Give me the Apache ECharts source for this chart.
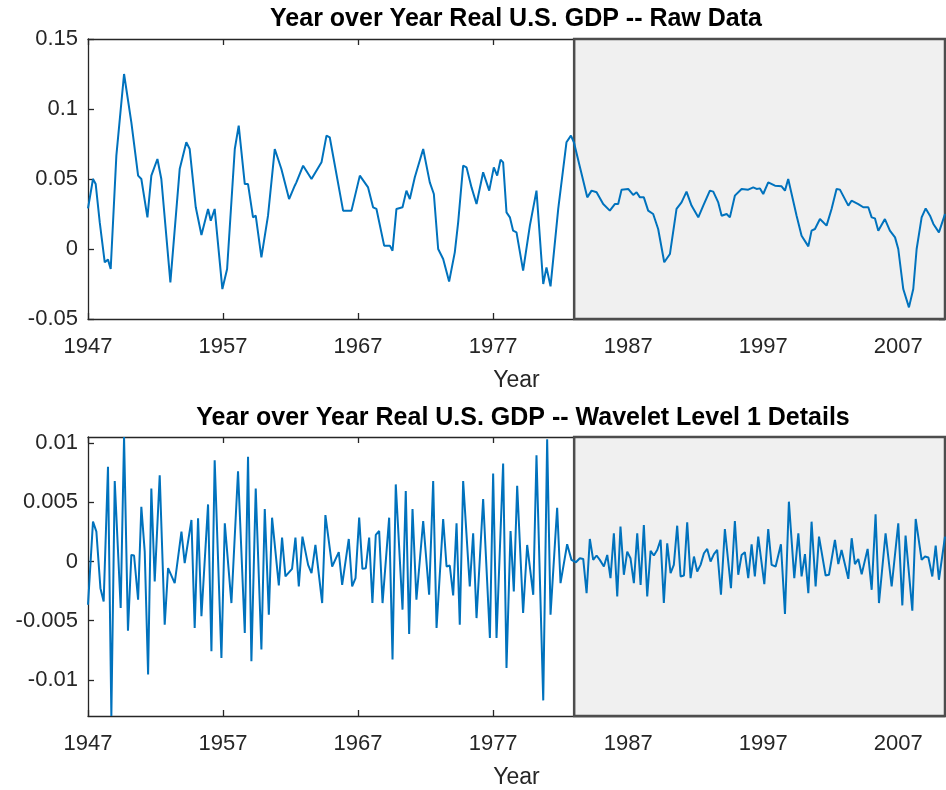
<!DOCTYPE html>
<html>
<head>
<meta charset="utf-8">
<script src="https://cdn.jsdelivr.net/npm/echarts@6/dist/echarts.min.js"></script>
<style>
html, body { margin: 0; padding: 0; background: #fff; }
#chart { width: 946px; height: 790px; }
</style>
</head>
<body>
<div id="chart"></div>
<script>
// 原始数据 (年同比实际GDP), 折线顶点
var rawYear = [1947.0, 1947.37, 1947.57, 1947.87, 1948.24, 1948.48, 1948.68, 1949.10, 1949.67, 1950.21,
	1950.71, 1950.95, 1951.40, 1951.69, 1952.14, 1952.43, 1953.10, 1953.79, 1954.28, 1954.53,
	1954.98, 1955.40, 1955.89, 1956.09, 1956.38, 1956.95, 1957.30, 1957.87, 1958.16, 1958.61,
	1958.85, 1959.22, 1959.42, 1959.84, 1960.33, 1960.83, 1961.32, 1961.89, 1962.31, 1962.43,
	1962.93, 1963.55, 1964.29, 1964.66, 1964.90, 1965.89, 1966.51, 1967.13, 1967.74, 1968.11,
	1968.36, 1968.93, 1969.35, 1969.55, 1969.84, 1970.29, 1970.58, 1970.83, 1971.20, 1971.82,
	1972.31, 1972.61, 1972.93, 1973.30, 1973.74, 1974.16, 1974.41, 1974.78, 1975.03, 1975.40,
	1975.77, 1976.26, 1976.71, 1977.05, 1977.30, 1977.55, 1977.74, 1977.99, 1978.24, 1978.48,
	1978.73, 1979.22, 1979.72, 1980.21, 1980.71, 1980.95, 1981.25, 1981.82, 1982.43, 1982.76,
	1982.98, 1983.97, 1984.29, 1984.66, 1985.15, 1985.64, 1986.01, 1986.26, 1986.51, 1987.00,
	1987.37, 1987.62, 1987.87, 1988.16, 1988.48, 1988.85, 1989.22, 1989.67, 1990.09, 1990.58,
	1990.95, 1991.32, 1991.69, 1992.19, 1992.56, 1993.05, 1993.30, 1993.67, 1993.92, 1994.29,
	1994.53, 1994.90, 1995.40, 1995.89, 1996.26, 1996.51, 1996.76, 1997.00, 1997.37, 1997.87,
	1998.36, 1998.61, 1998.85, 1999.47, 1999.84, 2000.34, 2000.58, 2000.83, 2001.20, 2001.69,
	2002.06, 2002.43, 2002.68, 2003.30, 2003.54, 2004.04, 2004.41, 2004.78, 2005.03, 2005.27,
	2005.52, 2006.01, 2006.38, 2006.76, 2007.00, 2007.37, 2007.79, 2008.11, 2008.36, 2008.73,
	2009.03, 2009.35, 2009.60, 2010.01, 2010.46];
var rawValue = [0.029, 0.050, 0.0464, 0.019, -0.0095, -0.0076, -0.0143, 0.0667, 0.125, 0.0905,
	0.0524, 0.050, 0.0226, 0.0524, 0.0643, 0.050, -0.0238, 0.0571, 0.0762, 0.0714,
	0.0298, 0.010, 0.0286, 0.0202, 0.0286, -0.0286, -0.0143, 0.0714, 0.0881, 0.0464,
	0.0464, 0.0226, 0.0238, -0.006, 0.0238, 0.0714, 0.0571, 0.0357, 0.0452, 0.0476,
	0.0595, 0.050, 0.0619, 0.081, 0.0798, 0.0274, 0.0274, 0.0524, 0.044, 0.0298,
	0.0286, 0.0024, 0.0024, -0.0012, 0.0286, 0.0298, 0.0417, 0.0357, 0.0512, 0.0714,
	0.0476, 0.0393, 0.0, -0.0071, -0.0233, -0.0024, 0.019, 0.0595, 0.0583, 0.044,
	0.0321, 0.0548, 0.0417, 0.0583, 0.0524, 0.0638, 0.0619, 0.0262, 0.0226, 0.0131,
	0.0119, -0.0155, 0.0167, 0.0417, -0.025, -0.0131, -0.0267, 0.0286, 0.0762, 0.081,
	0.0762, 0.0369, 0.0417, 0.0405, 0.0321, 0.0274, 0.0321, 0.0321, 0.0424, 0.0429,
	0.0386, 0.0405, 0.0369, 0.0369, 0.0274, 0.025, 0.0143, -0.0095, -0.0036, 0.0286,
	0.0333, 0.041, 0.031, 0.0226, 0.031, 0.0417, 0.041, 0.0333, 0.0238, 0.025,
	0.0226, 0.0381, 0.0429, 0.0424, 0.044, 0.0429, 0.0433, 0.0393, 0.0476, 0.0452,
	0.0448, 0.0417, 0.050, 0.0238, 0.0095, 0.0019, 0.0131, 0.0143, 0.0214, 0.0167,
	0.0286, 0.0429, 0.0424, 0.031, 0.0345, 0.0321, 0.0298, 0.0298, 0.0226, 0.0219,
	0.0131, 0.0214, 0.0131, 0.0083, 0.0, -0.0286, -0.0417, -0.0286, 0.0, 0.0226,
	0.029, 0.0238, 0.0179, 0.0119, 0.025];

// 小波第1层细节
var detYear = [1947.0, 1947.37, 1947.62, 1947.92, 1948.16, 1948.48, 1948.73, 1948.98, 1949.42, 1949.67,
	1949.96, 1950.21, 1950.41, 1950.71, 1950.95, 1951.20, 1951.45, 1951.69, 1951.94, 1952.31,
	1952.68, 1952.93, 1953.42, 1953.92, 1954.16, 1954.66, 1954.90, 1955.15, 1955.40, 1955.89,
	1956.14, 1956.38, 1956.88, 1957.13, 1957.62, 1958.11, 1958.61, 1958.85, 1959.10, 1959.42,
	1959.84, 1960.09, 1960.39, 1960.63, 1961.13, 1961.37, 1961.62, 1962.11, 1962.36, 1962.61,
	1962.88, 1963.30, 1963.55, 1963.84, 1964.34, 1964.58, 1965.08, 1965.57, 1965.82, 1966.31,
	1966.56, 1966.81, 1967.08, 1967.32, 1967.57, 1967.82, 1968.06, 1968.31, 1968.56, 1968.81,
	1969.30, 1969.55, 1969.79, 1970.29, 1970.53, 1970.78, 1971.03, 1971.32, 1971.82, 1972.26,
	1972.56, 1972.81, 1973.30, 1973.55, 1973.79, 1974.04, 1974.29, 1974.53, 1974.78, 1975.27,
	1975.52, 1975.77, 1976.26, 1976.76, 1977.00, 1977.25, 1977.74, 1977.99, 1978.29, 1978.53,
	1978.78, 1979.22, 1979.52, 1979.97, 1980.21, 1980.71, 1981.00, 1981.25, 1981.74, 1981.99,
	1982.48, 1982.80, 1983.13, 1983.42, 1983.67, 1983.92, 1984.16, 1984.41, 1984.66, 1984.90,
	1985.20, 1985.45, 1985.69, 1985.94, 1986.19, 1986.43, 1986.68, 1986.93, 1987.17, 1987.42,
	1987.67, 1987.92, 1988.16, 1988.41, 1988.66, 1988.90, 1989.15, 1989.40, 1989.64, 1989.89,
	1990.14, 1990.38, 1990.63, 1990.88, 1991.13, 1991.37, 1991.62, 1991.87, 1992.11, 1992.36,
	1992.61, 1992.85, 1993.10, 1993.35, 1993.59, 1993.87, 1994.16, 1994.61, 1994.90, 1995.15,
	1995.40, 1995.64, 1995.89, 1996.14, 1996.38, 1996.63, 1997.08, 1997.37, 1997.62, 1997.92,
	1998.31, 1998.61, 1998.90, 1999.30, 1999.60, 1999.84, 2000.09, 2000.34, 2000.58, 2000.88,
	2001.13, 2001.62, 2001.87, 2002.31, 2002.56, 2002.80, 2003.30, 2003.55, 2003.79, 2004.04,
	2004.29, 2004.73, 2005.03, 2005.32, 2005.57, 2006.06, 2006.51, 2007.00, 2007.30, 2007.54,
	2008.04, 2008.29, 2008.73, 2008.98, 2009.23, 2009.52, 2009.77, 2010.01, 2010.46];
var detValue = [-0.00365, 0.00337, 0.00253, -0.00225, -0.00337, 0.00801, -0.01306, 0.0068, -0.00393, 0.01053,
	-0.00584, 0.00056, 0.00051, -0.00323, 0.00463, 0.00084, -0.00955, 0.00618, -0.00169, 0.0073,
	-0.00534, -0.00056, -0.00183, 0.00253, -0.00014, 0.00351, -0.00562, 0.00365, -0.00463, 0.00483,
	-0.00758, 0.00857, -0.00815, 0.00323, -0.00351, 0.00764, -0.00604, 0.00885, -0.00843, 0.00618,
	-0.00744, 0.00444, -0.00449, 0.00371, -0.00202, 0.00202, -0.00126, -0.00062, 0.00202, -0.00211,
	0.00211, -0.00028, -0.00098, 0.0014, -0.00351, 0.00393, -0.00042, 0.00079, -0.00197, 0.00191,
	-0.00211, -0.0014, 0.00371, -0.00062, -0.00056, 0.00202, -0.00351, 0.00225, 0.00258, -0.00351,
	0.00371, -0.00829, 0.00652, -0.00407, 0.00596, -0.00612, 0.00444, -0.00323, 0.00343, -0.00281,
	0.0068, -0.00562, 0.0036, -0.00042, -0.00034, -0.00287, 0.00323, -0.00534, 0.0068, -0.00211,
	0.00239, -0.00478, 0.00528, -0.00646, 0.00744, -0.00646, 0.00829, -0.00899, 0.00258, -0.00253,
	0.0064, -0.00435, 0.0014, -0.00281, 0.00899, -0.01174, 0.01034, -0.00449, 0.00455, -0.00183,
	0.00146, 0.00014, -0.00006, 0.00028, 0.00022, -0.00267, 0.00191, 0.00014, 0.00051, 0.00014,
	-0.00042, 0.00056, -0.0014, 0.00239, -0.00295, 0.00295, -0.00112, 0.00084, 0.00028, -0.00183,
	0.00239, -0.00197, 0.00309, -0.00295, 0.0009, 0.00051, 0.00098, 0.00183, -0.00351, 0.00154,
	-0.00098, -0.00028, 0.00303, -0.00126, -0.00118, 0.00331, -0.0014, 0.00042, -0.00084, -0.00028,
	0.0007, 0.00107, 0, 0.00062, 0.00098, -0.00281, 0.00275, -0.00225, 0.00343, -0.00112,
	0.00056, 0.00079, -0.0014, 0.00146, -0.00126, 0.00211, -0.00191, 0.00275, -0.00028, -0.00042,
	0.00146, -0.00444, 0.00506, -0.0014, 0.00239, -0.00126, 0.00062, -0.00267, 0.00337, -0.00211,
	0.00211, -0.00118, -0.00112, 0.00183, -0.00022, 0.00098, -0.00146, 0.00197, -0.00022, 0.00022,
	-0.00107, 0.00107, -0.00239, 0.00399, -0.00351, 0.00239, -0.00211, 0.00323, -0.00371, 0.00219,
	-0.00416, 0.0036, 0.00014, 0.00042, 0.00034, -0.00126, 0.00135, -0.00154, 0.00211];

var xTicks = [1947, 1957, 1967, 1977, 1987, 1997, 2007];
var rawTicks = [-0.05, 0, 0.05, 0.1, 0.15];
var detTicks = [-0.01, -0.005, 0, 0.005, 0.01];
var shadeFrom = 1983;// 阴影区起点

function zip(xs, ys) {
	var out = [];
	for (var i = 0; i < xs.length; i++) {
		out.push([xs[i], ys[i]]);
	}
	return out;
}

var axisColor = '#262626';
var fontName = 'Liberation Sans, Arial, sans-serif';
var xMin = rawYear[0];
var xMax = rawYear[rawYear.length - 1];

function xAxisDef(gridIndex, pos, showLabel) {
	return {
		type : 'value',
		gridIndex : gridIndex,
		position : pos,
		min : xMin,
		max : xMax,
		splitLine : { show : false },
		axisLine : { show : true, onZero : false, lineStyle : { color : axisColor, width : 1.3 } },
		axisTick : { show : true, inside : true, length : 6, customValues : xTicks, lineStyle : { color : axisColor, width : 1.3 } },
		axisLabel : { show : showLabel, customValues : xTicks, color : axisColor, fontSize : 22, margin : 17,
			fontFamily : fontName, formatter : function(v) { return String(v); } },
		name : showLabel ? 'Year' : '',
		nameLocation : 'middle',
		nameGap : 50,
		nameTextStyle : { color : axisColor, fontSize : 23, fontFamily : fontName }
	};
}

function yAxisDef(gridIndex, pos, min, max, ticks, showLabel) {
	return {
		type : 'value',
		gridIndex : gridIndex,
		position : pos,
		min : min,
		max : max,
		splitLine : { show : false },
		axisLine : { show : true, onZero : false, lineStyle : { color : axisColor, width : 1.3 } },
		axisTick : { show : true, inside : true, length : 6, customValues : ticks, lineStyle : { color : axisColor, width : 1.3 } },
		axisLabel : { show : showLabel, customValues : ticks, color : axisColor, fontSize : 22, margin : 10,
			fontFamily : fontName }
	};
}

var shade = {
	silent : true,
	itemStyle : { color : '#f0f0f0', borderColor : '#4d4d4d', borderWidth : 2.5 },
	data : [ [ { xAxis : shadeFrom }, { xAxis : xMax } ] ]
};

var option = {
	animation : false,
	backgroundColor : '#ffffff',
	graphic : [ {
		type : 'text',
		x : 516,
		y : 19,
		style : { text : 'Year over Year Real U.S. GDP -- Raw Data', fill : '#000', align : 'center', verticalAlign : 'middle',
			font : 'bold 25px ' + fontName }
	}, {
		type : 'text',
		x : 523,
		y : 418,
		style : { text : 'Year over Year Real U.S. GDP -- Wavelet Level 1 Details', fill : '#000', align : 'center', verticalAlign : 'middle',
			font : 'bold 25px ' + fontName }
	} ],
	grid : [ { left : 88, top : 39, width : 857, height : 280 },
	         { left : 88, top : 437, width : 857, height : 280 } ],
	xAxis : [ xAxisDef(0, 'bottom', true), xAxisDef(0, 'top', false),
	          xAxisDef(1, 'bottom', true), xAxisDef(1, 'top', false) ],
	yAxis : [ yAxisDef(0, 'left', -0.05, 0.15, rawTicks, true), yAxisDef(0, 'right', -0.05, 0.15, rawTicks, false),
	          yAxisDef(1, 'left', -0.01306, 0.01053, detTicks, true), yAxisDef(1, 'right', -0.01306, 0.01053, detTicks, false) ],
	series : [ {
		type : 'line',
		xAxisIndex : 0,
		yAxisIndex : 0,
		data : zip(rawYear, rawValue),
		showSymbol : false,
		lineStyle : { color : '#0072BD', width : 2 },
		markArea : shade
	}, {
		type : 'line',
		xAxisIndex : 2,
		yAxisIndex : 2,
		data : zip(detYear, detValue),
		showSymbol : false,
		lineStyle : { color : '#0072BD', width : 2 },
		markArea : shade
	} ]
};

var myChart = echarts.init(document.getElementById('chart'));
myChart.setOption(option);
</script>
</body>
</html>
